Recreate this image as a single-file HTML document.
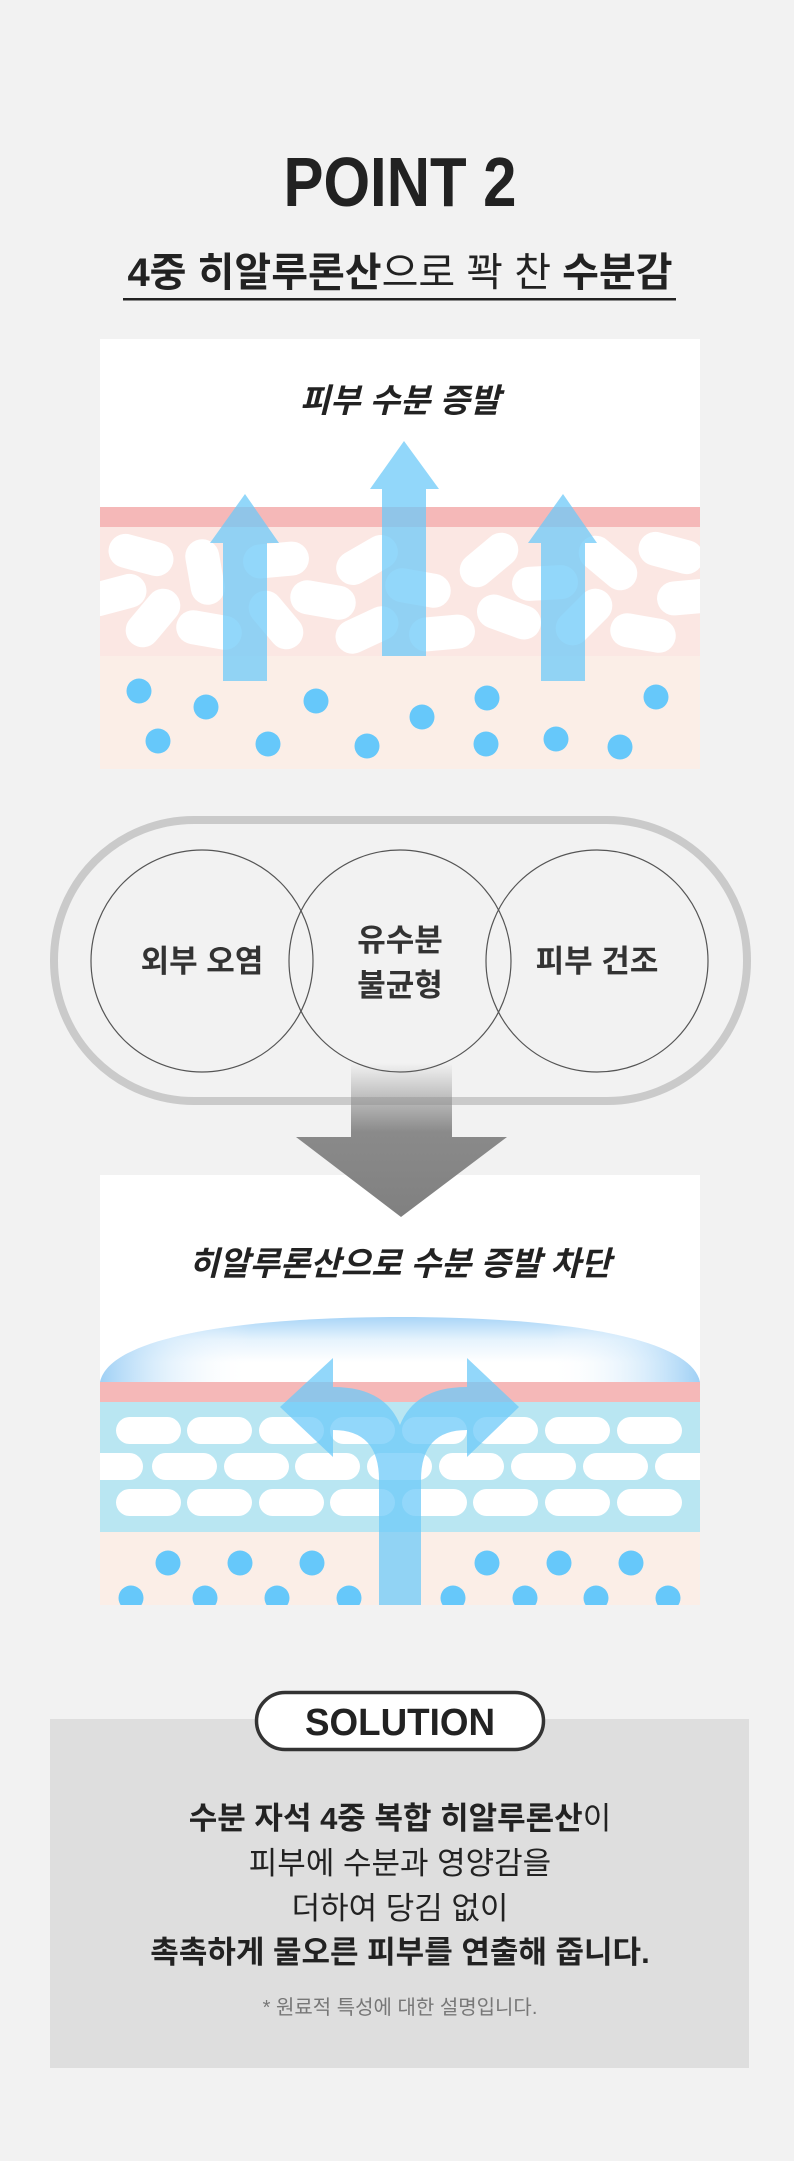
<!DOCTYPE html>
<html><head><meta charset="utf-8"><style>
html,body{margin:0;padding:0;background:#f2f2f2;}
svg{display:block;}
text{font-family:"Liberation Sans","Noto Sans CJK KR",sans-serif;}
</style></head><body>
<svg width="794" height="2161" viewBox="0 0 794 2161" xmlns="http://www.w3.org/2000/svg">
<defs>
<clipPath id="c1"><rect x="100" y="339" width="600" height="430"/></clipPath>
<clipPath id="c2"><rect x="100" y="1175" width="600" height="430"/></clipPath>
<linearGradient id="ga" x1="0" y1="0" x2="0" y2="1">
<stop offset="0" stop-color="#888" stop-opacity="0"/><stop offset="0.45" stop-color="#8a8a8a"/><stop offset="1" stop-color="#808080"/></linearGradient>
<linearGradient id="domeV" x1="0" y1="0" x2="0" y2="1">
<stop offset="0" stop-color="#a9d5f7"/><stop offset="0.35" stop-color="#e6f3fd"/><stop offset="0.7" stop-color="#ffffff"/><stop offset="1" stop-color="#ffffff"/></linearGradient>
<linearGradient id="domeH" x1="0" y1="0" x2="1" y2="0">
<stop offset="0" stop-color="#9fd0f5" stop-opacity="1"/><stop offset="0.12" stop-color="#cfe8fb" stop-opacity="0.5"/><stop offset="0.25" stop-color="#fff" stop-opacity="0"/><stop offset="0.75" stop-color="#fff" stop-opacity="0"/><stop offset="0.88" stop-color="#cfe8fb" stop-opacity="0.5"/><stop offset="1" stop-color="#9fd0f5" stop-opacity="1"/></linearGradient>
</defs>
<rect width="794" height="2161" fill="#f2f2f2"/>

<text x="400" y="206" text-anchor="middle" font-size="70" font-weight="bold" fill="#222" textLength="233" lengthAdjust="spacingAndGlyphs">POINT 2</text>
<text x="400" y="286" text-anchor="middle" font-size="40" fill="#222"><tspan font-weight="bold">4중 히알루론산</tspan>으로 꽉 찬 <tspan font-weight="bold">수분감</tspan></text>
<rect x="123" y="298" width="553" height="2.5" fill="#222"/>

<!-- Panel 1 -->
<g clip-path="url(#c1)">
<rect x="100" y="339" width="600" height="430" fill="#fff"/>
<rect x="100" y="507" width="600" height="20" fill="#f5b8b8"/>
<rect x="100" y="527" width="600" height="129" fill="#fbe7e3"/>
<rect x="100" y="656" width="600" height="113" fill="#fbeee7"/>
<g fill="#fff">
<rect x="-33" y="-17" width="66" height="34" rx="17" transform="translate(141,555) rotate(15)"/>
<rect x="-33" y="-17" width="66" height="34" rx="17" transform="translate(205,572) rotate(80)"/>
<rect x="-33" y="-17" width="66" height="34" rx="17" transform="translate(276,560) rotate(-5)"/>
<rect x="-33" y="-17" width="66" height="34" rx="17" transform="translate(367,560) rotate(-30)"/>
<rect x="-33" y="-17" width="66" height="34" rx="17" transform="translate(418,588) rotate(10)"/>
<rect x="-33" y="-17" width="66" height="34" rx="17" transform="translate(489,560) rotate(-40)"/>
<rect x="-33" y="-17" width="66" height="34" rx="17" transform="translate(545,583) rotate(-3)"/>
<rect x="-33" y="-17" width="66" height="34" rx="17" transform="translate(608,563) rotate(40)"/>
<rect x="-33" y="-17" width="66" height="34" rx="17" transform="translate(671,553) rotate(15)"/>
<rect x="-33" y="-17" width="66" height="34" rx="17" transform="translate(114,595) rotate(-15)"/>
<rect x="-33" y="-17" width="66" height="34" rx="17" transform="translate(153,618) rotate(-50)"/>
<rect x="-33" y="-17" width="66" height="34" rx="17" transform="translate(209,630) rotate(10)"/>
<rect x="-33" y="-17" width="66" height="34" rx="17" transform="translate(276,620) rotate(50)"/>
<rect x="-33" y="-17" width="66" height="34" rx="17" transform="translate(323,600) rotate(10)"/>
<rect x="-33" y="-17" width="66" height="34" rx="17" transform="translate(367,630) rotate(-25)"/>
<rect x="-33" y="-17" width="66" height="34" rx="17" transform="translate(442,633) rotate(-5)"/>
<rect x="-33" y="-17" width="66" height="34" rx="17" transform="translate(509,617) rotate(20)"/>
<rect x="-33" y="-17" width="66" height="34" rx="17" transform="translate(584,617) rotate(-45)"/>
<rect x="-33" y="-17" width="66" height="34" rx="17" transform="translate(643,633) rotate(10)"/>
<rect x="-33" y="-17" width="66" height="34" rx="17" transform="translate(690,597) rotate(-5)"/>
</g>
<g fill="#66c8fa">
<circle cx="139" cy="691" r="12.5"/><circle cx="206" cy="707" r="12.5"/><circle cx="316" cy="701" r="12.5"/>
<circle cx="422" cy="717" r="12.5"/><circle cx="487" cy="698" r="12.5"/><circle cx="656" cy="697" r="12.5"/>
<circle cx="158" cy="741" r="12.5"/><circle cx="268" cy="744" r="12.5"/><circle cx="367" cy="746" r="12.5"/>
<circle cx="486" cy="744" r="12.5"/><circle cx="556" cy="739" r="12.5"/><circle cx="620" cy="747" r="12.5"/>
</g>
<g fill="#6ec9f8" fill-opacity="0.75">
<path d="M223,681 L223,543 L210,543 L245,494 L279,543 L267,543 L267,681 Z"/>
<path d="M382,656 L382,489 L370,489 L404,441 L439,489 L426,489 L426,656 Z"/>
<path d="M541,681 L541,543 L528,543 L563,494 L597,543 L585,543 L585,681 Z"/>
</g>
</g>
<text x="400" y="412" text-anchor="middle" font-size="33" font-weight="bold" font-style="italic" fill="#222">피부 수분 증발</text>

<!-- capsule -->
<rect x="54" y="820" width="693" height="281" rx="140" fill="none" stroke="#cacaca" stroke-width="8"/>
<g fill="none" stroke="#555" stroke-width="1.2">
<circle cx="202" cy="961" r="111"/><circle cx="400" cy="961" r="111"/><circle cx="597" cy="961" r="111"/>
</g>
<g font-size="31" font-weight="bold" fill="#333" text-anchor="middle">
<text x="202" y="972">외부 오염</text>
<text x="400" y="951">유수분</text>
<text x="400" y="996">불균형</text>
<text x="597" y="972">피부 건조</text>
</g>

<!-- Panel 2 -->
<g clip-path="url(#c2)">
<rect x="100" y="1175" width="600" height="430" fill="#fff"/>
<path d="M100,1382 C110,1335 250,1317 400,1317 C550,1317 690,1335 700,1382 Z" fill="url(#domeV)"/>
<path d="M100,1382 C110,1335 250,1317 400,1317 C550,1317 690,1335 700,1382 Z" fill="url(#domeH)"/>
<rect x="100" y="1382" width="600" height="20" fill="#f5b8b8"/>
<rect x="100" y="1402" width="600" height="130" fill="#b9e6f2"/>
<rect x="100" y="1532" width="600" height="73" fill="#fbeee7"/>
<g fill="#fff">
<rect x="116" y="1417" width="65" height="27" rx="13.5"/><rect x="187" y="1417" width="65" height="27" rx="13.5"/><rect x="259" y="1417" width="65" height="27" rx="13.5"/><rect x="330" y="1417" width="65" height="27" rx="13.5"/><rect x="402" y="1417" width="65" height="27" rx="13.5"/><rect x="473" y="1417" width="65" height="27" rx="13.5"/><rect x="545" y="1417" width="65" height="27" rx="13.5"/><rect x="617" y="1417" width="65" height="27" rx="13.5"/>
<rect x="78" y="1453" width="65" height="27" rx="13.5"/><rect x="152" y="1453" width="65" height="27" rx="13.5"/><rect x="224" y="1453" width="65" height="27" rx="13.5"/><rect x="295" y="1453" width="65" height="27" rx="13.5"/><rect x="367" y="1453" width="65" height="27" rx="13.5"/><rect x="439" y="1453" width="65" height="27" rx="13.5"/><rect x="511" y="1453" width="65" height="27" rx="13.5"/><rect x="583" y="1453" width="65" height="27" rx="13.5"/><rect x="655" y="1453" width="65" height="27" rx="13.5"/>
<rect x="116" y="1489" width="65" height="27" rx="13.5"/><rect x="187" y="1489" width="65" height="27" rx="13.5"/><rect x="259" y="1489" width="65" height="27" rx="13.5"/><rect x="330" y="1489" width="65" height="27" rx="13.5"/><rect x="402" y="1489" width="65" height="27" rx="13.5"/><rect x="473" y="1489" width="65" height="27" rx="13.5"/><rect x="545" y="1489" width="65" height="27" rx="13.5"/><rect x="617" y="1489" width="65" height="27" rx="13.5"/>
</g>
<g fill="#66c8fa">
<circle cx="168" cy="1563" r="12.5"/><circle cx="240" cy="1563" r="12.5"/><circle cx="312" cy="1563" r="12.5"/><circle cx="487" cy="1563" r="12.5"/><circle cx="559" cy="1563" r="12.5"/><circle cx="631" cy="1563" r="12.5"/>
<circle cx="131" cy="1598" r="12.5"/><circle cx="205" cy="1598" r="12.5"/><circle cx="277" cy="1598" r="12.5"/><circle cx="349" cy="1598" r="12.5"/><circle cx="453" cy="1598" r="12.5"/><circle cx="525" cy="1598" r="12.5"/><circle cx="596" cy="1598" r="12.5"/><circle cx="668" cy="1598" r="12.5"/>
</g>
<path d="M379,1605 L379,1480 Q379,1430 333,1430 L333,1457 L280,1407 L333,1358 L333,1387 Q385,1387 400,1425 Q415,1387 467,1387 L467,1358 L519,1407 L467,1457 L467,1430 Q421,1430 421,1480 L421,1605 Z" fill="#6ec9f8" fill-opacity="0.75"/>
</g>
<text x="400" y="1275" text-anchor="middle" font-size="33" font-weight="bold" font-style="italic" fill="#222">히알루론산으로 수분 증발 차단</text>

<!-- gray arrow -->
<path d="M351,1063 L452,1063 L452,1137 L507,1137 L401,1217 L296,1137 L351,1137 Z" fill="url(#ga)"/>

<!-- Solution -->
<rect x="50" y="1719" width="699" height="349" fill="#dedede"/>
<rect x="256.5" y="1692.5" width="287" height="57" rx="28.5" fill="#fff" stroke="#333" stroke-width="3.5"/>
<text x="400" y="1735" text-anchor="middle" font-size="38" font-weight="bold" fill="#222" textLength="190" lengthAdjust="spacingAndGlyphs">SOLUTION</text>
<g text-anchor="middle" font-size="31" fill="#222">
<text x="400" y="1829"><tspan font-weight="bold">수분 자석 4중 복합 히알루론산</tspan>이</text>
<text x="400" y="1874">피부에 수분과 영양감을</text>
<text x="400" y="1919">더하여 당김 없이</text>
<text x="400" y="1963" font-weight="bold">촉촉하게 물오른 피부를 연출해 줍니다.</text>
</g>
<text x="400" y="2014" text-anchor="middle" font-size="20" fill="#777">* 원료적 특성에 대한 설명입니다.</text>
</svg>
</body></html>
